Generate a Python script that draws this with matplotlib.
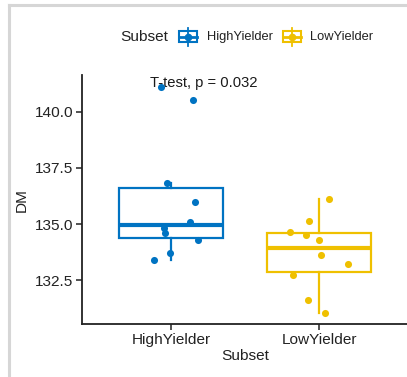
import numpy as np
import matplotlib
matplotlib.use("Agg")
import matplotlib.pyplot as plt
from matplotlib.lines import Line2D
from matplotlib.patches import Rectangle

plt.rcParams['font.family'] = ['Liberation Sans', 'DejaVu Sans']

# Data
categories = ["HighYielder", "LowYielder"]
high_dm = [141.11, 140.51, 136.83, 135.96, 135.10, 134.84, 134.61, 134.28, 133.73, 133.41]
low_dm = [136.12, 135.13, 134.65, 134.53, 134.28, 133.60, 133.22, 132.74, 131.63, 131.04]
p_label = "T-test, p = 0.032"
yticks = [132.5, 135.0, 137.5, 140.0]

# Horizontal jitter of the points (category units)
high_jitter = [-0.068, 0.150, -0.027, 0.164, 0.130, -0.045, -0.040, 0.180, -0.005, -0.113]
low_jitter = [0.066, -0.068, -0.198, -0.090, -0.002, 0.009, 0.190, -0.180, -0.079, 0.040]

colors = ["#0073C2", "#EFC000"]
W, H = 407, 377
fig = plt.figure(figsize=(W / 100, H / 100), dpi=100, facecolor="white")


def fx(x):
    return x / W


def fy(y):
    return 1 - y / H


ax = fig.add_axes([fx(81.7), fy(324.3), fx(408.5) - fx(81.7), fy(75) - fy(324.3)])
ax.set_facecolor("none")

groups = [high_dm, low_dm]
jitters = [high_jitter, low_jitter]
for i, (vals, jit, col) in enumerate(zip(groups, jitters, colors)):
    pos = i + 1
    ax.boxplot(vals, positions=[pos], widths=0.7, whis=1.5, showfliers=False,
               showcaps=False, patch_artist=True,
               boxprops=dict(facecolor="none", edgecolor=col, linewidth=1.6),
               whiskerprops=dict(color=col, linewidth=1.6),
               medianprops=dict(color=col, linewidth=3.0))
    ax.scatter(pos + np.array(jit), vals, s=26, color=col, zorder=5, linewidths=0)

all_vals = np.concatenate([high_dm, low_dm])
lo, hi = all_vals.min(), all_vals.max()
pad = 0.05 * (hi - lo)
ax.set_ylim(lo - pad, hi + pad + 0.02)
ax.set_xlim(0.4, 2.6)

ax.text(0.858, 141.28, p_label, ha="left", va="center", fontsize=10.6,
        color="#1a1a1a", zorder=3)

ax.set_xticks([1, 2])
ax.set_xticklabels(categories)
ax.set_yticks(yticks)
ax.set_yticklabels([f"{t:.1f}" for t in yticks])
for s in ["top", "right"]:
    ax.spines[s].set_visible(False)
for s in ["left", "bottom"]:
    ax.spines[s].set_linewidth(1.3)
    ax.spines[s].set_color("#222222")
ax.tick_params(axis="both", length=4, width=1.1, color="#222222",
               labelsize=11.1, labelcolor="#222222", pad=2)
ax.set_xlabel("Subset", fontsize=11.1, color="#222222", labelpad=2)
ax.set_ylabel("DM", fontsize=11.1, color="#222222", labelpad=4)

# Legend drawn at the top
fig.text(fx(120), fy(37), "Subset", fontsize=11.1, color="#222222",
         ha="left", va="center")
key_x = [178.5, 282.5]
label_x = [207, 310]
for kx, lx, col, name in zip(key_x, label_x, colors, categories):
    cx = kx + 9
    fig.add_artist(Line2D([fx(cx), fx(cx)], [fy(28), fy(46)], color=col, lw=1.3,
                          transform=fig.transFigure))
    fig.add_artist(Rectangle((fx(kx), fy(42)), fx(18), fy(31) - fy(42),
                             facecolor="white", edgecolor=col, lw=1.5,
                             transform=fig.transFigure))
    fig.add_artist(Line2D([fx(kx), fx(kx + 18)], [fy(36.5), fy(36.5)], color=col,
                          lw=2.0, transform=fig.transFigure))
    fig.add_artist(Line2D([fx(cx)], [fy(36.5)], marker="o", ms=4.5, color=col,
                          lw=0, transform=fig.transFigure))
    fig.text(fx(lx), fy(37), name, fontsize=9.3, color="#222222",
             ha="left", va="center")

# Thin frame along the top and left edges
fig.add_artist(Line2D([fx(8.5), fx(8.5)], [fy(5), fy(377)], color="#d6d6d6", lw=2.2,
                      transform=fig.transFigure))
fig.add_artist(Line2D([fx(8.5), fx(407)], [fy(5), fy(5)], color="#d6d6d6", lw=2.2,
                      transform=fig.transFigure))

fig.savefig("out.png", dpi=100, facecolor="white")
